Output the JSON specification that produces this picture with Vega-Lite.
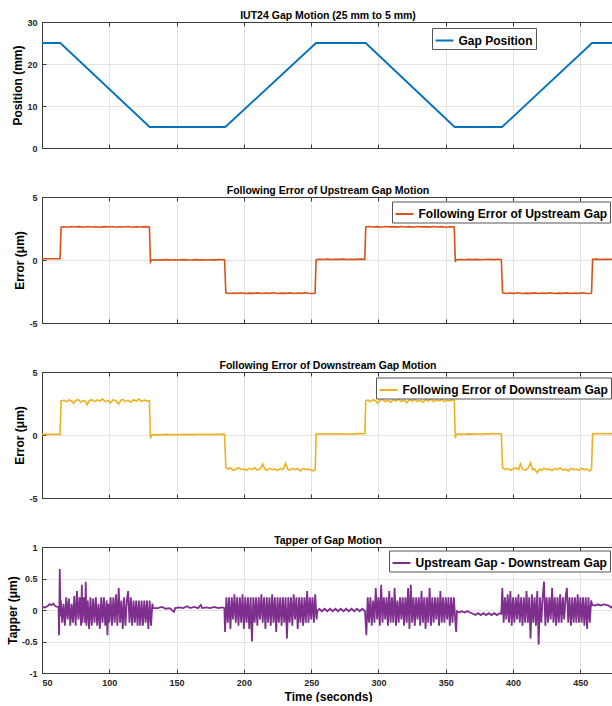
{
"$schema": "https://vega.github.io/schema/vega-lite/v6.json",
"background": "white",
"padding": {"left": 6, "top": 10, "right": 0, "bottom": 0},
"config": {
 "font": "Liberation Sans",
 "view": {"stroke": null},
 "title": {"fontSize": 10.5, "fontWeight": "bold", "color": "#000", "offset": -3, "frame": "group", "anchor": "middle"},
 "axis": {"labelFontSize": 9, "labelFontWeight": "bold", "labelColor": "#262626", "titleFontSize": 12, "titleFontWeight": "bold", "titleColor": "#000", "domainColor": "#3a3a3a", "tickColor": "#3a3a3a", "tickSize": -4, "labelPadding": 9, "gridColor": "#e3e3e3", "gridWidth": 1, "titlePadding": 2},
 "axisX": {"titlePadding": 4},
 "legend": {"symbolType": "stroke", "symbolSize": 324, "symbolStrokeWidth": 2, "labelFontSize": 12, "labelFontWeight": "bold", "labelColor": "#000", "labelOffset": 4, "padding": 2.5, "fillColor": "#fff", "strokeColor": "#555", "labelLimit": 400, "cornerRadius": 0}
},
"datasets": {
 "pos": [{"t":50,"v":25},{"t":63.6,"v":25},{"t":130,"v":5},{"t":186.2,"v":5},{"t":253.6,"v":25},{"t":290.5,"v":25},{"t":356.6,"v":5},{"t":391.8,"v":5},{"t":458.7,"v":25},{"t":475,"v":25}],
 "up": [{"t":50,"v":0.1},{"t":63.4,"v":0.1},{"t":64.2,"v":2.6},{"t":66,"v":2.64},{"t":69,"v":2.6},{"t":72,"v":2.66},{"t":75,"v":2.62},{"t":78,"v":2.65},{"t":81,"v":2.6},{"t":84,"v":2.66},{"t":87,"v":2.62},{"t":90,"v":2.64},{"t":93,"v":2.6},{"t":96,"v":2.65},{"t":99,"v":2.62},{"t":102,"v":2.66},{"t":105,"v":2.6},{"t":108,"v":2.64},{"t":111,"v":2.62},{"t":114,"v":2.66},{"t":117,"v":2.6},{"t":120,"v":2.64},{"t":123,"v":2.62},{"t":126,"v":2.65},{"t":129.8,"v":2.62},{"t":130.6,"v":-0.15},{"t":131.4,"v":0.0},{"t":134,"v":0.02},{"t":137,"v":-0.01},{"t":140,"v":0.01},{"t":143,"v":0.03},{"t":146,"v":0.0},{"t":149,"v":0.02},{"t":152,"v":0.0},{"t":155,"v":0.03},{"t":158,"v":0.01},{"t":161,"v":0.0},{"t":164,"v":0.03},{"t":167,"v":0.01},{"t":170,"v":0.02},{"t":173,"v":0.0},{"t":176,"v":0.02},{"t":179,"v":0.01},{"t":182,"v":0.03},{"t":185.6,"v":0.02},{"t":186.6,"v":-2.6},{"t":189,"v":-2.66},{"t":192,"v":-2.62},{"t":195,"v":-2.65},{"t":198,"v":-2.6},{"t":201,"v":-2.66},{"t":204,"v":-2.63},{"t":207,"v":-2.65},{"t":210,"v":-2.61},{"t":213,"v":-2.66},{"t":216,"v":-2.62},{"t":219,"v":-2.65},{"t":222,"v":-2.6},{"t":225,"v":-2.66},{"t":228,"v":-2.63},{"t":231,"v":-2.65},{"t":234,"v":-2.61},{"t":237,"v":-2.66},{"t":240,"v":-2.62},{"t":243,"v":-2.65},{"t":246,"v":-2.6},{"t":249,"v":-2.66},{"t":252.9,"v":-2.64},{"t":253.7,"v":0.03},{"t":256,"v":0.06},{"t":259,"v":0.04},{"t":262,"v":0.07},{"t":265,"v":0.04},{"t":268,"v":0.06},{"t":271,"v":0.05},{"t":274,"v":0.07},{"t":277,"v":0.04},{"t":280,"v":0.06},{"t":283,"v":0.05},{"t":286,"v":0.07},{"t":289.8,"v":0.05},{"t":290.6,"v":2.63},{"t":293,"v":2.66},{"t":296,"v":2.62},{"t":299,"v":2.65},{"t":302,"v":2.6},{"t":305,"v":2.66},{"t":308,"v":2.63},{"t":311,"v":2.65},{"t":314,"v":2.61},{"t":317,"v":2.66},{"t":320,"v":2.62},{"t":323,"v":2.65},{"t":326,"v":2.6},{"t":329,"v":2.66},{"t":332,"v":2.63},{"t":335,"v":2.65},{"t":338,"v":2.61},{"t":341,"v":2.66},{"t":344,"v":2.62},{"t":347,"v":2.65},{"t":350,"v":2.6},{"t":353,"v":2.64},{"t":356.3,"v":2.62},{"t":357.1,"v":-0.15},{"t":357.9,"v":0.02},{"t":361,"v":0.04},{"t":364,"v":0.02},{"t":367,"v":0.05},{"t":370,"v":0.03},{"t":373,"v":0.05},{"t":376,"v":0.02},{"t":379,"v":0.04},{"t":382,"v":0.06},{"t":385,"v":0.03},{"t":388,"v":0.05},{"t":391.3,"v":0.04},{"t":392.2,"v":-2.6},{"t":395,"v":-2.66},{"t":398,"v":-2.62},{"t":401,"v":-2.65},{"t":404,"v":-2.6},{"t":407,"v":-2.66},{"t":410,"v":-2.63},{"t":413,"v":-2.65},{"t":416,"v":-2.61},{"t":419,"v":-2.66},{"t":422,"v":-2.62},{"t":425,"v":-2.65},{"t":428,"v":-2.6},{"t":431,"v":-2.66},{"t":434,"v":-2.63},{"t":437,"v":-2.65},{"t":440,"v":-2.61},{"t":443,"v":-2.66},{"t":446,"v":-2.62},{"t":449,"v":-2.65},{"t":452,"v":-2.6},{"t":455,"v":-2.66},{"t":458.3,"v":-2.64},{"t":459.1,"v":0.05},{"t":462,"v":0.07},{"t":465,"v":0.04},{"t":468,"v":0.06},{"t":471,"v":0.05},{"t":475,"v":0.06}],
 "dn": [{"t":50,"v":0.05},{"t":63.4,"v":0.05},{"t":64.2,"v":2.7},{"t":66,"v":2.75},{"t":68,"v":2.65},{"t":70,"v":2.78},{"t":72,"v":2.7},{"t":73.5,"v":2.5},{"t":75,"v":2.75},{"t":77,"v":2.8},{"t":79,"v":2.6},{"t":80.5,"v":2.75},{"t":82,"v":2.68},{"t":83.5,"v":2.4},{"t":85,"v":2.72},{"t":87,"v":2.8},{"t":89,"v":2.65},{"t":91,"v":2.78},{"t":93,"v":2.7},{"t":95,"v":2.85},{"t":97,"v":2.65},{"t":99,"v":2.75},{"t":101,"v":2.55},{"t":103,"v":2.8},{"t":105,"v":2.7},{"t":107,"v":2.45},{"t":108.5,"v":2.75},{"t":110,"v":2.82},{"t":112,"v":2.65},{"t":114,"v":2.75},{"t":116,"v":2.6},{"t":118,"v":2.8},{"t":120,"v":2.7},{"t":122,"v":2.85},{"t":124,"v":2.65},{"t":126,"v":2.78},{"t":128,"v":2.68},{"t":129.8,"v":2.72},{"t":130.6,"v":-0.25},{"t":131.4,"v":0.0},{"t":134,"v":0.03},{"t":137,"v":0.01},{"t":140,"v":0.03},{"t":143,"v":0.05},{"t":146,"v":0.02},{"t":149,"v":0.04},{"t":152,"v":0.02},{"t":155,"v":0.05},{"t":158,"v":0.03},{"t":161,"v":0.05},{"t":164,"v":0.03},{"t":167,"v":0.05},{"t":170,"v":0.04},{"t":173,"v":0.06},{"t":176,"v":0.04},{"t":179,"v":0.06},{"t":182,"v":0.05},{"t":185.6,"v":0.06},{"t":186.6,"v":-2.55},{"t":188,"v":-2.7},{"t":190,"v":-2.62},{"t":192,"v":-2.8},{"t":194,"v":-2.7},{"t":196,"v":-2.6},{"t":198,"v":-2.75},{"t":200,"v":-2.68},{"t":202,"v":-2.8},{"t":204,"v":-2.65},{"t":206,"v":-2.75},{"t":208,"v":-2.6},{"t":210,"v":-2.78},{"t":212,"v":-2.7},{"t":214,"v":-2.3},{"t":215.5,"v":-2.7},{"t":217,"v":-2.8},{"t":219,"v":-2.65},{"t":221,"v":-2.75},{"t":223,"v":-2.7},{"t":225,"v":-2.82},{"t":227,"v":-2.65},{"t":229,"v":-2.75},{"t":231,"v":-2.25},{"t":232.5,"v":-2.7},{"t":234,"v":-2.8},{"t":236,"v":-2.65},{"t":238,"v":-2.75},{"t":240,"v":-2.68},{"t":242,"v":-2.85},{"t":244,"v":-2.65},{"t":246,"v":-2.75},{"t":248,"v":-2.7},{"t":250,"v":-2.8},{"t":252,"v":-2.85},{"t":253,"v":-2.75},{"t":253.7,"v":0.08},{"t":256,"v":0.1},{"t":259,"v":0.08},{"t":262,"v":0.1},{"t":265,"v":0.08},{"t":268,"v":0.1},{"t":271,"v":0.09},{"t":274,"v":0.1},{"t":277,"v":0.08},{"t":280,"v":0.1},{"t":283,"v":0.09},{"t":286,"v":0.11},{"t":289.8,"v":0.1},{"t":290.6,"v":2.7},{"t":292,"v":2.78},{"t":294,"v":2.65},{"t":296,"v":2.8},{"t":298,"v":2.7},{"t":299.5,"v":2.5},{"t":301,"v":2.75},{"t":303,"v":2.82},{"t":305,"v":2.65},{"t":307,"v":2.75},{"t":309,"v":2.6},{"t":311,"v":2.8},{"t":313,"v":2.7},{"t":315,"v":2.85},{"t":317,"v":2.65},{"t":319,"v":2.78},{"t":321,"v":2.55},{"t":323,"v":2.8},{"t":325,"v":2.7},{"t":327,"v":2.82},{"t":329,"v":2.65},{"t":331,"v":2.75},{"t":333,"v":2.6},{"t":335,"v":2.8},{"t":337,"v":2.7},{"t":339,"v":2.85},{"t":341,"v":2.65},{"t":343,"v":2.78},{"t":345,"v":2.7},{"t":347,"v":2.82},{"t":349,"v":2.65},{"t":351,"v":2.75},{"t":353,"v":2.7},{"t":355,"v":2.8},{"t":356.3,"v":2.72},{"t":357.1,"v":-0.25},{"t":357.9,"v":0.05},{"t":361,"v":0.08},{"t":364,"v":0.06},{"t":367,"v":0.09},{"t":370,"v":0.07},{"t":373,"v":0.1},{"t":376,"v":0.08},{"t":379,"v":0.1},{"t":382,"v":0.09},{"t":385,"v":0.11},{"t":388,"v":0.1},{"t":391.3,"v":0.1},{"t":392.2,"v":-2.6},{"t":394,"v":-2.75},{"t":396,"v":-2.65},{"t":398,"v":-2.8},{"t":400,"v":-2.7},{"t":402,"v":-2.6},{"t":404,"v":-2.75},{"t":405.5,"v":-2.3},{"t":407,"v":-2.7},{"t":409,"v":-2.8},{"t":411,"v":-2.65},{"t":413,"v":-2.2},{"t":414.5,"v":-2.75},{"t":416,"v":-2.7},{"t":418,"v":-3.0},{"t":419.5,"v":-2.7},{"t":421,"v":-2.8},{"t":423,"v":-2.65},{"t":425,"v":-2.75},{"t":427,"v":-2.7},{"t":429,"v":-2.82},{"t":431,"v":-2.65},{"t":433,"v":-2.75},{"t":435,"v":-2.6},{"t":437,"v":-2.8},{"t":439,"v":-2.7},{"t":441,"v":-2.85},{"t":443,"v":-2.65},{"t":445,"v":-2.75},{"t":447,"v":-2.7},{"t":449,"v":-2.8},{"t":451,"v":-2.65},{"t":453,"v":-2.75},{"t":455,"v":-2.7},{"t":457,"v":-2.85},{"t":458.3,"v":-2.75},{"t":459.1,"v":0.1},{"t":462,"v":0.12},{"t":465,"v":0.1},{"t":468,"v":0.11},{"t":471,"v":0.1},{"t":475,"v":0.11}],
 "tap": [{"t":50,"v":0.05},{"t":52,"v":0.04},{"t":54,"v":0.06},{"t":55.5,"v":0.09},{"t":57,"v":0.08},{"t":58.5,"v":0.1},{"t":60,"v":0.06},{"t":61.5,"v":0.05},{"t":62.3,"v":0.05},{"t":62.7,"v":-0.4},{"t":63.2,"v":0.65},{"t":63.7,"v":-0.1},
{"t":64,"v":0.15},{"t":65,"v":-0.2},{"t":66,"v":0.1},{"t":67,"v":-0.25},{"t":68,"v":0.2},{"t":69,"v":-0.15},{"t":70,"v":0.18},{"t":71,"v":-0.25},{"t":72,"v":0.1},{"t":73,"v":-0.2},{"t":74,"v":0.22},{"t":75,"v":-0.25},{"t":76,"v":0.3},{"t":77,"v":-0.15},{"t":78,"v":0.2},{"t":79,"v":-0.25},{"t":79.6,"v":0.4},{"t":80,"v":-0.2},{"t":81,"v":0.2},{"t":82,"v":-0.2},{"t":82.5,"v":0.45},{"t":83,"v":-0.25},{"t":84,"v":0.15},{"t":85,"v":-0.3},{"t":86,"v":0.2},{"t":87,"v":-0.25},{"t":88,"v":0.18},{"t":89,"v":-0.2},{"t":90,"v":0.2},{"t":91,"v":-0.25},{"t":92,"v":0.1},{"t":93,"v":-0.3},{"t":94,"v":0.2},{"t":95,"v":-0.2},{"t":96,"v":0.2},{"t":97,"v":-0.25},{"t":98,"v":0.15},{"t":98.6,"v":-0.4},{"t":99.4,"v":0.1},{"t":100,"v":-0.2},{"t":101,"v":0.2},{"t":102,"v":-0.25},{"t":103,"v":0.2},{"t":104,"v":-0.2},{"t":105,"v":0.25},{"t":106,"v":-0.25},{"t":107,"v":0.35},{"t":108,"v":-0.2},{"t":109,"v":0.15},{"t":110,"v":-0.3},{"t":111,"v":0.2},{"t":112,"v":-0.25},{"t":113,"v":0.15},{"t":114,"v":0.3},{"t":115,"v":-0.2},{"t":116,"v":0.2},{"t":117,"v":-0.25},{"t":118,"v":0.15},{"t":119,"v":-0.2},{"t":120,"v":0.15},{"t":121,"v":-0.25},{"t":122,"v":0.15},{"t":123,"v":-0.25},{"t":124,"v":0.15},{"t":125,"v":-0.25},{"t":126,"v":0.15},{"t":127,"v":-0.2},{"t":128,"v":0.15},{"t":129,"v":-0.3},{"t":130,"v":0.15},{"t":131,"v":-0.25},{"t":132,"v":0.1},{"t":132.6,"v":0.03},
{"t":136,"v":0.03},{"t":139,"v":0.05},{"t":142,"v":0.02},{"t":145,"v":0.03},{"t":148,"v":-0.03},{"t":149,"v":0.03},{"t":152,"v":0.04},{"t":155,"v":0.03},{"t":158,"v":0.06},{"t":160,"v":0.03},{"t":163,"v":0.05},{"t":166,"v":0.03},{"t":168,"v":0.08},{"t":169,"v":0.03},{"t":172,"v":0.04},{"t":175,"v":0.03},{"t":178,"v":0.05},{"t":181,"v":0.03},{"t":184,"v":0.04},{"t":185.5,"v":0.03},
{"t":186,"v":-0.35},{"t":187,"v":0.2},{"t":188,"v":-0.2},{"t":189,"v":0.2},{"t":190,"v":-0.3},{"t":191,"v":0.2},{"t":192,"v":-0.15},{"t":193,"v":0.25},{"t":194,"v":-0.2},{"t":195,"v":0.2},{"t":196,"v":-0.25},{"t":197,"v":0.2},{"t":198,"v":-0.2},{"t":199,"v":0.25},{"t":200,"v":-0.3},{"t":201,"v":0.2},{"t":202,"v":-0.2},{"t":203,"v":0.2},{"t":204,"v":-0.3},{"t":205,"v":0.2},{"t":206,"v":-0.5},{"t":207,"v":0.2},{"t":208,"v":-0.2},{"t":209,"v":0.2},{"t":210,"v":-0.25},{"t":211,"v":0.2},{"t":212,"v":-0.15},{"t":213,"v":0.25},{"t":214,"v":-0.2},{"t":215,"v":0.2},{"t":216,"v":-0.3},{"t":217,"v":0.2},{"t":218,"v":-0.2},{"t":219,"v":0.2},{"t":220,"v":-0.25},{"t":221,"v":0.25},{"t":222,"v":-0.2},{"t":223,"v":0.2},{"t":224,"v":-0.35},{"t":225,"v":0.2},{"t":226,"v":-0.2},{"t":227,"v":0.2},{"t":228,"v":-0.25},{"t":229,"v":0.2},{"t":230,"v":-0.2},{"t":231,"v":0.2},{"t":232,"v":-0.45},{"t":233,"v":0.2},{"t":234,"v":-0.2},{"t":235,"v":0.2},{"t":236,"v":-0.25},{"t":237,"v":0.25},{"t":238,"v":-0.15},{"t":239,"v":0.2},{"t":240,"v":-0.3},{"t":241,"v":0.2},{"t":242,"v":-0.2},{"t":243,"v":0.2},{"t":244,"v":-0.25},{"t":245,"v":0.2},{"t":246,"v":-0.2},{"t":247,"v":0.3},{"t":248,"v":-0.2},{"t":249,"v":0.2},{"t":250,"v":-0.15},{"t":251,"v":0.2},{"t":252,"v":-0.2},{"t":253,"v":0.25},{"t":254,"v":-0.15},{"t":254.6,"v":-0.02},
{"t":256,"v":0.02},{"t":258,"v":-0.02},{"t":260,"v":0.02},{"t":262,"v":-0.02},{"t":264,"v":0.02},{"t":266,"v":-0.02},{"t":268,"v":0.02},{"t":270,"v":-0.02},{"t":272,"v":0.02},{"t":274,"v":-0.02},{"t":276,"v":0.02},{"t":278,"v":-0.02},{"t":280,"v":0.02},{"t":282,"v":-0.02},{"t":284,"v":0.02},{"t":286,"v":-0.02},{"t":288,"v":0.02},{"t":290,"v":-0.02},
{"t":291,"v":-0.4},{"t":292,"v":0.2},{"t":293,"v":-0.2},{"t":294,"v":0.2},{"t":295,"v":-0.25},{"t":296,"v":0.15},{"t":297,"v":-0.2},{"t":298,"v":0.35},{"t":299,"v":-0.15},{"t":300,"v":0.2},{"t":301,"v":-0.25},{"t":302,"v":0.4},{"t":303,"v":-0.2},{"t":304,"v":0.2},{"t":305,"v":-0.15},{"t":306,"v":0.2},{"t":307,"v":-0.25},{"t":308,"v":0.3},{"t":309,"v":-0.2},{"t":310,"v":0.2},{"t":311,"v":-0.2},{"t":312,"v":0.35},{"t":313,"v":-0.25},{"t":314,"v":0.15},{"t":315,"v":-0.2},{"t":316,"v":0.2},{"t":317,"v":-0.15},{"t":318,"v":0.2},{"t":319,"v":-0.25},{"t":320,"v":0.2},{"t":321,"v":-0.2},{"t":322,"v":0.35},{"t":323,"v":-0.3},{"t":324,"v":0.4},{"t":325,"v":-0.2},{"t":326,"v":0.2},{"t":327,"v":-0.25},{"t":328,"v":0.2},{"t":329,"v":-0.15},{"t":330,"v":0.2},{"t":331,"v":-0.25},{"t":332,"v":0.3},{"t":333,"v":-0.2},{"t":334,"v":0.2},{"t":335,"v":-0.3},{"t":336,"v":0.2},{"t":337,"v":-0.2},{"t":338,"v":0.35},{"t":339,"v":-0.25},{"t":340,"v":0.2},{"t":341,"v":-0.2},{"t":342,"v":0.2},{"t":343,"v":-0.15},{"t":344,"v":0.2},{"t":345,"v":-0.25},{"t":346,"v":0.3},{"t":347,"v":-0.2},{"t":348,"v":0.2},{"t":349,"v":-0.2},{"t":350,"v":0.2},{"t":351,"v":-0.15},{"t":352,"v":0.2},{"t":353,"v":-0.25},{"t":354,"v":0.2},{"t":355,"v":-0.2},{"t":356,"v":0.2},{"t":357,"v":-0.15},{"t":357.7,"v":-0.35},{"t":358.3,"v":-0.02},
{"t":360,"v":-0.04},{"t":362,"v":-0.02},{"t":364,"v":-0.04},{"t":366,"v":-0.02},{"t":368,"v":-0.04},{"t":370,"v":-0.06},{"t":372,"v":-0.08},{"t":374,"v":-0.05},{"t":376,"v":-0.08},{"t":378,"v":-0.05},{"t":380,"v":-0.08},{"t":382,"v":-0.05},{"t":384,"v":-0.08},{"t":386,"v":-0.05},{"t":388,"v":-0.08},{"t":390,"v":-0.05},{"t":391.3,"v":-0.06},
{"t":392,"v":0.35},{"t":393,"v":-0.2},{"t":394,"v":0.2},{"t":395,"v":-0.15},{"t":396,"v":0.25},{"t":397,"v":-0.2},{"t":398,"v":0.3},{"t":399,"v":-0.25},{"t":400,"v":0.2},{"t":401,"v":-0.2},{"t":402,"v":0.2},{"t":403,"v":-0.15},{"t":404,"v":0.25},{"t":405,"v":-0.2},{"t":406,"v":0.2},{"t":407,"v":-0.25},{"t":408,"v":0.2},{"t":409,"v":-0.2},{"t":410,"v":0.3},{"t":411,"v":-0.2},{"t":412,"v":0.2},{"t":413,"v":-0.45},{"t":414,"v":0.25},{"t":415,"v":-0.2},{"t":416,"v":0.2},{"t":417,"v":-0.25},{"t":418,"v":0.3},{"t":419,"v":-0.55},{"t":420,"v":0.2},{"t":421,"v":-0.2},{"t":422,"v":0.2},{"t":423,"v":0.45},{"t":424,"v":-0.25},{"t":425,"v":0.2},{"t":426,"v":-0.2},{"t":427,"v":0.2},{"t":428,"v":-0.15},{"t":429,"v":0.35},{"t":430,"v":-0.2},{"t":431,"v":0.2},{"t":432,"v":-0.25},{"t":433,"v":0.2},{"t":434,"v":-0.2},{"t":435,"v":0.25},{"t":436,"v":-0.2},{"t":437,"v":0.2},{"t":438,"v":-0.15},{"t":439,"v":0.2},{"t":440,"v":0.35},{"t":441,"v":-0.2},{"t":442,"v":0.2},{"t":443,"v":-0.25},{"t":444,"v":0.2},{"t":445,"v":-0.2},{"t":446,"v":0.2},{"t":447,"v":-0.2},{"t":448,"v":0.25},{"t":449,"v":-0.2},{"t":450,"v":0.2},{"t":451,"v":-0.2},{"t":452,"v":0.2},{"t":453,"v":-0.25},{"t":454,"v":0.2},{"t":455,"v":-0.3},{"t":456,"v":0.2},{"t":457,"v":-0.2},{"t":458,"v":0.15},{"t":458.8,"v":0.08},
{"t":461,"v":0.07},{"t":463,"v":0.09},{"t":465,"v":0.07},{"t":467,"v":0.09},{"t":469,"v":0.08},{"t":471,"v":0.07},{"t":473,"v":0.04},{"t":475,"v":0.08}]
},
"spacing": 32,
"resolve": {"scale": {"color": "independent"}, "legend": {"color": "independent"}},
"vconcat": [
 {"width": 572, "height": 126,
  "title": {"text": "IUT24 Gap Motion (25 mm to 5 mm)"},
  "data": {"name": "pos"},
  "resolve": {"axis": {"x": "independent"}},
  "layer": [
   {"mark": {"type": "line", "strokeWidth": 1.8, "clip": true},
    "encoding": {
     "x": {"field": "t", "type": "quantitative", "scale": {"domain": [50, 475], "nice": false, "zero": false}, "axis": {"orient": "bottom", "values": [50,100,150,200,250,300,350,400,450], "labels": false, "title": null, "grid": true}},
     "y": {"field": "v", "type": "quantitative", "scale": {"domain": [0, 30], "nice": false, "zero": false}, "axis": {"values": [0,10,20,30], "title": "Position (mm)", "grid": true, "labelExpr": "''+datum.value"}},
     "color": {"datum": "Gap Position", "type": "nominal", "scale": {"range": ["#0072BD"]}, "legend": {"orient": "none", "legendX": 390, "legendY": 6, "title": null}}
    }},
   {"mark": {"type": "line", "strokeOpacity": 0},
    "encoding": {
     "x": {"field": "t", "type": "quantitative", "axis": {"orient": "top", "values": [50,100,150,200,250,300,350,400,450], "labels": false, "title": null, "grid": false}}
    }}
  ]},
 {"width": 572, "height": 126,
  "title": {"text": "Following Error of Upstream Gap Motion"},
  "data": {"name": "up"},
  "resolve": {"axis": {"x": "independent"}},
  "layer": [
   {"mark": {"type": "line", "strokeWidth": 1.6, "clip": true},
    "encoding": {
     "x": {"field": "t", "type": "quantitative", "scale": {"domain": [50, 475], "nice": false, "zero": false}, "axis": {"orient": "bottom", "values": [50,100,150,200,250,300,350,400,450], "labels": false, "title": null, "grid": true}},
     "y": {"field": "v", "type": "quantitative", "scale": {"domain": [-5, 5], "nice": false, "zero": false}, "axis": {"values": [-5,0,5], "title": "Error (μm)", "grid": true, "labelExpr": "''+datum.value"}},
     "color": {"datum": "Following Error of Upstream Gap", "type": "nominal", "scale": {"range": ["#D95319"]}, "legend": {"orient": "none", "legendX": 350, "legendY": 4.5, "title": null}}
    }},
   {"mark": {"type": "line", "strokeOpacity": 0},
    "encoding": {
     "x": {"field": "t", "type": "quantitative", "axis": {"orient": "top", "values": [50,100,150,200,250,300,350,400,450], "labels": false, "title": null, "grid": false}}
    }}
  ]},
 {"width": 572, "height": 126,
  "title": {"text": "Following Error of Downstream Gap Motion"},
  "data": {"name": "dn"},
  "resolve": {"axis": {"x": "independent"}},
  "layer": [
   {"mark": {"type": "line", "strokeWidth": 1.6, "clip": true},
    "encoding": {
     "x": {"field": "t", "type": "quantitative", "scale": {"domain": [50, 475], "nice": false, "zero": false}, "axis": {"orient": "bottom", "values": [50,100,150,200,250,300,350,400,450], "labels": false, "title": null, "grid": true}},
     "y": {"field": "v", "type": "quantitative", "scale": {"domain": [-5, 5], "nice": false, "zero": false}, "axis": {"values": [-5,0,5], "title": "Error (μm)", "grid": true, "labelExpr": "''+datum.value"}},
     "color": {"datum": "Following Error of Downstream Gap", "type": "nominal", "scale": {"range": ["#EDB120"]}, "legend": {"orient": "none", "legendX": 334, "legendY": 5.5, "title": null}}
    }},
   {"mark": {"type": "line", "strokeOpacity": 0},
    "encoding": {
     "x": {"field": "t", "type": "quantitative", "axis": {"orient": "top", "values": [50,100,150,200,250,300,350,400,450], "labels": false, "title": null, "grid": false}}
    }}
  ]},
 {"width": 572, "height": 126,
  "title": {"text": "Tapper of Gap Motion"},
  "data": {"name": "tap"},
  "resolve": {"axis": {"x": "independent"}},
  "layer": [
   {"mark": {"type": "line", "strokeWidth": 1.8, "clip": true},
    "encoding": {
     "x": {"field": "t", "type": "quantitative", "scale": {"domain": [50, 475], "nice": false, "zero": false}, "axis": {"orient": "bottom", "values": [50,100,150,200,250,300,350,400,450], "labels": true, "title": "Time (seconds)", "grid": true}},
     "y": {"field": "v", "type": "quantitative", "scale": {"domain": [-1, 1], "nice": false, "zero": false}, "axis": {"values": [-1,-0.5,0,0.5,1], "title": "Tapper (μm)", "grid": true, "labelExpr": "''+datum.value"}},
     "color": {"datum": "Upstream Gap - Downstream Gap", "type": "nominal", "scale": {"range": ["#7E2F8E"]}, "legend": {"orient": "none", "legendX": 347, "legendY": 3.5, "title": null}}
    }},
   {"mark": {"type": "line", "strokeOpacity": 0},
    "encoding": {
     "x": {"field": "t", "type": "quantitative", "axis": {"orient": "top", "values": [50,100,150,200,250,300,350,400,450], "labels": false, "title": null, "grid": false}}
    }}
  ]}
]
}
